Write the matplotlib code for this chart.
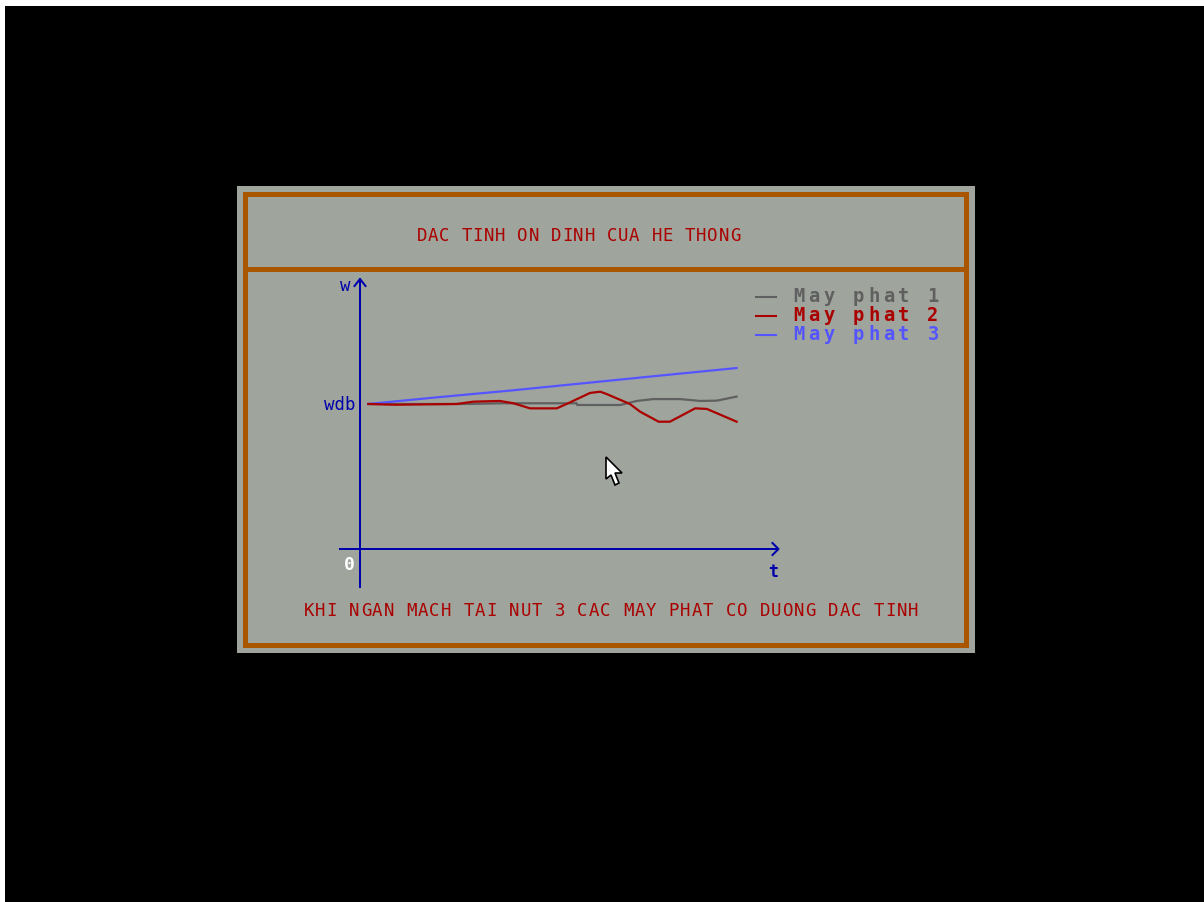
import matplotlib
matplotlib.use("Agg")
import matplotlib.pyplot as plt
from matplotlib.patches import Rectangle, Polygon

# ---------------- data ----------------
title_text = "DAC TINH ON DINH CUA HE THONG"
footer_text = "KHI NGAN MACH TAI NUT 3 CAC MAY PHAT CO DUONG DAC TINH"
series_names = ["May phat 1", "May phat 2", "May phat 3"]

t1 = [0.22, 2.83, 3.80, 5.75, 5.76, 6.90, 7.34, 7.78, 8.49, 9.02, 9.46, 9.99]
w1 = [1.000, 1.000, 1.005, 1.005, 0.993, 0.993, 1.021, 1.034, 1.034, 1.021, 1.023, 1.051]

t2 = [0.22, 0.93, 2.56, 3.01, 3.71, 4.07, 4.51, 5.22, 5.57, 6.10, 6.37, 6.54,
      7.16, 7.43, 7.92, 8.22, 8.89, 9.20, 9.99]
w2 = [1.000, 0.995, 1.000, 1.016, 1.021, 1.005, 0.970, 0.970, 1.011, 1.076, 1.085, 1.069,
      1.000, 0.947, 0.878, 0.878, 0.970, 0.966, 0.878]

t3 = [0.22, 2.0, 4.0, 6.0, 8.0, 9.99]
w3 = [1.000, 1.045, 1.093, 1.145, 1.197, 1.248]

# ---------------- styling ----------------
W, H = 1204, 903
BG_PANEL = "#9fa59d"
ORANGE = "#aa5500"
RED_TXT = "#aa0000"
AXIS_BLUE = "#0000aa"
C1, C2, C3 = "#606060", "#aa0000", "#5555ff"
MONO = "DejaVu Sans Mono"

fig = plt.figure(figsize=(W / 100, H / 100), dpi=100)
fig.patch.set_facecolor("white")

# background axes in pixel coordinates
bg = fig.add_axes([0, 0, 1, 1])
bg.set_xlim(0, W)
bg.set_ylim(H, 0)
bg.axis("off")
bg.add_patch(Rectangle((5, 7), W - 5, H - 7, facecolor="black", edgecolor="none"))
bg.add_patch(Rectangle((237, 187), 738, 467, facecolor=BG_PANEL, edgecolor="none"))
lw_or = 5 * 72 / 100
bg.add_patch(Rectangle((244.5, 194.5), 721, 451.5, facecolor="none",
                       edgecolor=ORANGE, linewidth=lw_or))
bg.plot([244.5, 965.5], [270, 270], color=ORANGE, linewidth=lw_or, solid_capstyle="butt")


def cell_text(ax, s, x0, y, cell, color, size, weight="normal"):
    """Draw text character by character on a fixed cell grid (x0 = centre of first cell)."""
    for i, ch in enumerate(s):
        if ch != " ":
            ax.text(x0 + i * cell, y, ch, color=color, fontsize=size, family=MONO,
                    weight=weight, ha="center", va="center")


cell_text(bg, title_text, 422, 236.5, 11.18, RED_TXT, 12.5)
cell_text(bg, footer_text, 309, 611.5, 11.4, RED_TXT, 12.5)

# legend
leg_colors = [C1, C2, C3]
leg_rows = [296.5, 315.5, 334.5]
for name, col, yy in zip(series_names, leg_colors, leg_rows):
    bg.plot([756, 776], [yy + 1.5, yy + 1.5], color=col, linewidth=1.5)
    cell_text(bg, name, 799, yy, 14.9, col, 13.5, weight="bold")

# mouse cursor
cur = [(606, 458), (606, 480), (611, 476), (615, 486), (619, 484), (615, 474), (622, 474)]
bg.add_patch(Polygon(cur, closed=True, facecolor="white", edgecolor="black", linewidth=1.2))

# ---------------- plot axes (data coordinates) ----------------
px_per_t = 37.7
px_per_w = 145.0
x0_px, y0_px = 360.0, 550.0
ax = fig.add_axes([0, 0, 1, 1])
ax.set_xlim(-x0_px / px_per_t, (W - x0_px) / px_per_t)
ax.set_ylim(-(H - y0_px) / px_per_w, y0_px / px_per_w)
ax.axis("off")
ax.patch.set_alpha(0)

ax_lw = 2 * 72 / 100
# y axis
ax.plot([0, 0], [-0.262, 1.862], color=AXIS_BLUE, linewidth=ax_lw)
ax.plot([-5.5 / px_per_t, 0, 5.5 / px_per_t], [1.862 - 7 / px_per_w, 1.862, 1.862 - 7 / px_per_w],
        color=AXIS_BLUE, linewidth=ax_lw)
# x axis
ax.plot([-0.53, 11.1], [0, 0], color=AXIS_BLUE, linewidth=ax_lw)
ax.plot([11.1 - 6 / px_per_t, 11.1, 11.1 - 6 / px_per_t], [6 / px_per_w, 0, -6 / px_per_w],
        color=AXIS_BLUE, linewidth=ax_lw)

# labels
ax.text(-15 / px_per_t, 1.822, "w", color=AXIS_BLUE, fontsize=12.5, family=MONO,
        ha="center", va="center")
ax.text(-4 / px_per_t, 1.0, "wdb", color=AXIS_BLUE, fontsize=12.5, family=MONO,
        ha="right", va="center")
ax.text(-11 / px_per_t, -0.105, "0", color="white", fontsize=13, family=MONO,
        weight="bold", ha="center", va="center")
ax.text(413 / px_per_t, -0.15, "t", color=AXIS_BLUE, fontsize=12, family=MONO,
        weight="bold", ha="center", va="center")

# series
ax.plot(t1, w1, color=C1, linewidth=1.6)
ax.plot(t3, w3, color=C3, linewidth=1.6)
ax.plot(t2, w2, color=C2, linewidth=1.6)

fig.savefig("out.png", dpi=100, facecolor=fig.get_facecolor())
